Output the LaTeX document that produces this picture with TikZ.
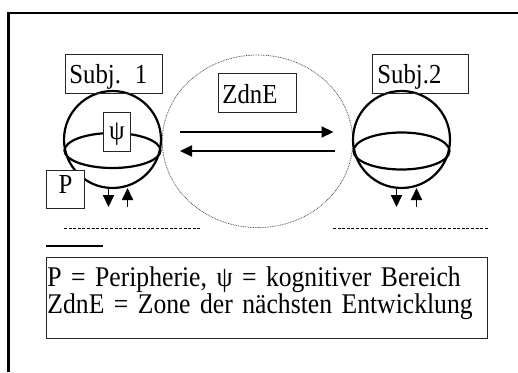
\documentclass[tikz,border=0pt]{standalone}
\usepackage{fontspec}
\setmainfont{Liberation Serif}[FakeStretch=0.9]
\usetikzlibrary{arrows.meta}

% tight two-line setting for the key
\newcommand\legendfont{\fontsize{28.5}{27}\selectfont\lineskiplimit=-8pt\relax}

\tikzset{
  boxed/.style={draw=black!85, line width=0.9pt, anchor=north west, align=left,
                inner ysep=0pt, inner xsep=4pt, font=\fontsize{27.5}{27}\selectfont},
  ball/.style={circle, draw, line width=2.2pt, inner sep=0pt, minimum size=97pt},
  rim/.style={line width=2.2pt},
  flow/.style={line width=2.2pt, -{Triangle[length=12pt,width=11pt]}},
  tick/.style={line width=1.9pt, -{Triangle[length=12pt,width=11pt]}},
  zone/.style={draw=black!70, line width=0.8pt, dash pattern=on 0.8pt off 0.9pt},
  ground/.style={line width=0.8pt, dash pattern=on 3pt off 1.6pt},
}

\begin{document}
\begin{tikzpicture}[x=1pt, y=-1pt]
  \useasboundingbox (0,0) rectangle (518,372);

  % frame
  \draw[line width=2.2pt] (518,13) -- (8.5,13) -- (8.5,372);

  % zone of proximal development
  \draw[zone] (257.5,141.3) ellipse [x radius=95.2, y radius=86.3];

  % subject 1
  \node[ball] (s1) at (112.5,139.5) {};
  \draw[rim] (112.5,150.5) ellipse [x radius=48, y radius=17.5];
  \node[boxed, text width=89pt, text height=29pt, text depth=10pt] (l1) at (65,54) {Subj. 1};
  \node[boxed, fill=white, align=center, inner xsep=1pt, text width=25pt, text height=27pt, text depth=12pt] (psi) at (103,112) {ψ};
  \node[boxed, fill=white, align=center, text width=30pt, text height=23pt, text depth=15pt] (p) at (46,170) {P};

  % subject 2
  \node[ball] (s2) at (401.5,139.5) {};
  \draw[rim] (401.5,151) ellipse [x radius=48, y radius=18.5];
  \node[boxed, inner xsep=5pt, text width=86pt, text height=29pt, text depth=10pt] (l2) at (372,54) {Subj.2};

  % zone label
  \node[boxed, text width=70pt, text height=30pt, text depth=9pt] (z) at (218,73) {ZdnE};

  % exchange between the subjects
  \coordinate (a1) at (180,132);
  \coordinate (a2) at (333.5,132);
  \coordinate (b1) at (334.5,151);
  \coordinate (b2) at (180,151);
  \draw[flow] (a1) -- (a2);
  \draw[flow] (b1) -- (b2);

  % in/out at the periphery
  \coordinate (d1) at (108.5,188);
  \coordinate (d1e) at (108.5,207);
  \coordinate (u1) at (127.5,207);
  \coordinate (u1e) at (127.5,188);
  \draw[tick] (d1) -- (d1e);
  \draw[tick] (u1) -- (u1e);
  \coordinate (d2) at (396.5,188);
  \coordinate (d2e) at (396.5,207);
  \coordinate (u2) at (416.5,207);
  \coordinate (u2e) at (416.5,188);
  \draw[tick] (d2) -- (d2e);
  \draw[tick] (u2) -- (u2e);

  % ground lines
  \coordinate (g1) at (64,228);
  \coordinate (g2) at (200,228);
  \coordinate (g3) at (333,228);
  \coordinate (g4) at (489,228);
  \draw[ground] (g1) -- (g2);
  \draw[ground] (g3) -- (g4);
  \coordinate (h1) at (46,246);
  \coordinate (h2) at (103,246);
  \draw[line width=2.2pt] (h1) -- (h2);

  % legend
  \node[boxed, font=\legendfont, inner xsep=1pt, text width=439pt,
        text height=29pt, text depth=52pt] (leg) at (46,257)
    {\mbox{P = Peripherie, ψ = kognitiver Bereich}\\\mbox{ZdnE = Zone der nächsten Entwicklung}};
\end{tikzpicture}
\end{document}
